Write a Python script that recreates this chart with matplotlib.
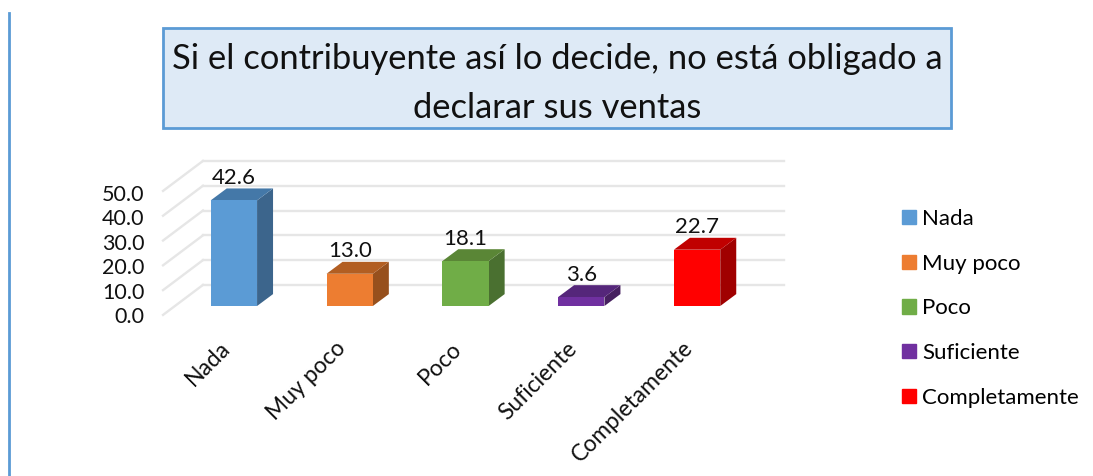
"""Recreate the 3D-style survey column chart with a boxed title."""

import matplotlib

matplotlib.use("Agg")

import matplotlib.pyplot as plt
from matplotlib.patches import Patch, Polygon, Rectangle

FONT = "Lato"

TITLE = "Si el contribuyente así lo decide, no está obligado a\ndeclarar sus ventas"
CATEGORIES = ["Nada", "Muy poco", "Poco", "Suficiente", "Completamente"]
VALUES = [42.6, 13.0, 18.1, 3.6, 22.7]
TICKS = [0, 10, 20, 30, 40, 50]

FRONT = ["#5B9BD5", "#ED7D31", "#70AD47", "#7030A0", "#FF0000"]
TOP = ["#4478A8", "#B25E22", "#5A8636", "#55267A", "#C00000"]
SIDE = ["#3C658C", "#97501D", "#4A7030", "#46205F", "#A00000"]
BORDER = "#5B9BD5"
GRID = "#E6E6E6"

W, H = 1093, 476
BAR_WIDTH = 0.40
DEPTH_X, DEPTH_Y = 0.138, 4.8
WALL_X0, WALL_X1, WALL_X2 = -0.612, -0.267, 4.75
WALL_Y0, WALL_Y1 = -3.6, 8.5


def draw_walls(ax):
    """Draw the slanted side wall and the back wall gridlines."""
    for tick in TICKS:
        ax.plot([WALL_X0, WALL_X1], [tick + WALL_Y0, tick + WALL_Y1],
                color=GRID, lw=1.7, clip_on=False, zorder=1)
        ax.plot([WALL_X1, WALL_X2], [tick + WALL_Y1, tick + WALL_Y1],
                color=GRID, lw=1.7, clip_on=False, zorder=1)
        # labels span slightly less than the wall does
        ax.text(-0.772, tick * 0.984 + WALL_Y0 - 0.8, f"{tick:.1f}", ha="right",
                va="center", fontsize=15.5, family=FONT, color="#111111")


def draw_bar(ax, i, value):
    """Draw one extruded column from its category index and value."""
    x0, x1 = i - BAR_WIDTH / 2, i + BAR_WIDTH / 2
    ax.add_patch(Polygon([(x1, 0), (x1 + DEPTH_X, DEPTH_Y),
                          (x1 + DEPTH_X, value + DEPTH_Y), (x1, value)],
                         color=SIDE[i], lw=0, clip_on=False, zorder=3))
    ax.add_patch(Polygon([(x0, value), (x0 + DEPTH_X, value + DEPTH_Y),
                          (x1 + DEPTH_X, value + DEPTH_Y), (x1, value)],
                         color=TOP[i], lw=0, clip_on=False, zorder=3))
    ax.bar(i, value, BAR_WIDTH, color=FRONT[i], zorder=4)
    ax.text(i, value + DEPTH_Y + 0.2, f"{value:.1f}", ha="center", va="bottom",
            fontsize=16, family=FONT, color="#111111", zorder=5)


def main():
    fig = plt.figure(figsize=(W / 100, H / 100), dpi=100)

    # 0 sits at y=306px and 50 at y=182px, categories are 115.8px apart
    ax = fig.add_axes([176 / W, (H - 306) / H, 579 / W, 124 / H])
    ax.set_xlim(-0.5, 4.5)
    ax.set_ylim(0, 50)
    ax.axis("off")

    draw_walls(ax)
    for i, value in enumerate(VALUES):
        draw_bar(ax, i, value)
    for i, name in enumerate(CATEGORIES):
        ax.text(i - 0.065, -15.7, name, rotation=45, rotation_mode="anchor",
                ha="right", va="center", fontsize=16.5, family=FONT, color="#111111")

    fig.add_artist(plt.Line2D([9 / W, 9 / W], [0, 1 - 13 / H], color=BORDER, lw=2))
    fig.add_artist(Rectangle((163 / W, 1 - 128 / H), 788 / W, 100 / H,
                             transform=fig.transFigure, facecolor="#DEEAF6",
                             edgecolor=BORDER, lw=2))
    fig.text(557 / W, 1 - 83.5 / H, TITLE, ha="center", va="center", fontsize=24.8,
             family=FONT, color="#111111", linespacing=1.65)

    handles = [Patch(color=color, label=name) for name, color in zip(CATEGORIES, FRONT)]
    fig.legend(handles=handles, loc="upper left", bbox_to_anchor=(882 / W, 1 - 189 / H),
               frameon=False, handlelength=0.62, handleheight=0.62, handletextpad=0.3,
               labelspacing=1.11, prop={"family": FONT, "size": 16})

    fig.savefig("out.png", dpi=100)


if __name__ == "__main__":
    main()
